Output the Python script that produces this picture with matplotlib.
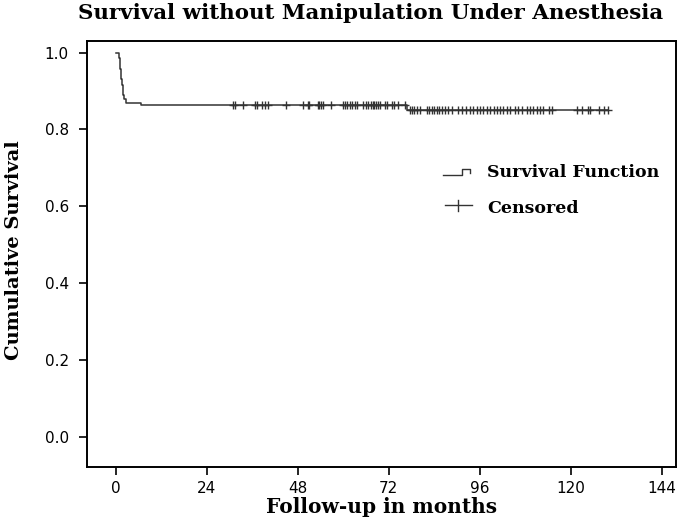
import numpy as np
import matplotlib
matplotlib.use("Agg")
import matplotlib.pyplot as plt

# Kaplan-Meier steps (months, cumulative survival)
event_months = [0.0, 0.9, 1.05, 1.2, 1.35, 1.5, 1.65, 1.8, 2.2, 2.6, 6.6, 76.7]
survival = [1.0, 0.985, 0.972, 0.958, 0.944, 0.930, 0.916, 0.889, 0.878, 0.869, 0.863, 0.850]
last_followup = 129.8

# censored observations (months)
censored_months = [
    30.9, 31.4, 33.5, 36.7, 37.2, 38.5, 39.3, 40.1, 44.9, 49.3, 50.6, 51.0,
    53.2, 53.6, 54.1, 54.7, 56.7, 59.8, 60.4, 61.0, 61.7, 62.3, 63.1, 63.5,
    65.3, 65.9, 66.6, 67.3, 67.7, 68.2, 68.6, 69.2, 69.7, 71.0, 71.6, 72.7,
    73.4, 74.3, 76.3, 77.6, 78.0, 78.7, 79.3, 80.2, 82.0, 82.6, 83.3, 83.9,
    84.6, 85.3, 85.9, 86.8, 87.7, 88.6, 90.3, 91.2, 92.3, 93.4, 94.3, 95.2,
    95.9, 96.9, 97.8, 98.7, 99.6, 100.5, 101.3, 102.2, 103.1, 104.0, 105.3,
    106.1, 107.0, 108.4, 109.2, 110.1, 111.0, 111.9, 112.7, 114.1, 115.0,
    121.6, 122.9, 124.6, 125.1, 127.3, 128.6, 129.8,
]

x_ticks = [0, 24, 48, 72, 96, 120, 144]
y_ticks = [0.0, 0.2, 0.4, 0.6, 0.8, 1.0]

INK = "#333333"
SERIF = ["DejaVu Serif"]

fig = plt.figure(figsize=(6.79, 5.22), dpi=100)
ax = fig.add_axes([0.128, 0.1054, 0.8676, 0.8161])

t = np.array(event_months + [last_followup])
s = np.array(survival + [survival[-1]])
ax.step(t, s, where="post", color=INK, lw=1.1)

cm = np.array(censored_months)
idx = np.searchsorted(np.array(event_months), cm, side="right") - 1
ax.plot(cm, np.array(survival)[idx], linestyle="none", marker="+",
        markersize=5.5, markeredgewidth=1.0, color=INK)

ax.set_xlim(-7.6, 147.7)
ax.set_ylim(-0.079, 1.030)
ax.set_xticks(x_ticks)
ax.set_yticks(y_ticks)
ax.set_yticklabels([f"{v:.1f}" for v in y_ticks])
ax.tick_params(direction="out", length=6, width=1.2, labelsize=11, colors="black")
ax.tick_params(axis="x", pad=4)
ax.tick_params(axis="y", pad=7)
for sp in ax.spines.values():
    sp.set_linewidth(1.4)
    sp.set_color("black")

ax.set_xlabel("Follow-up in months", family=SERIF, fontweight="bold", fontsize=14.5, labelpad=1)
ax.set_ylabel("Cumulative Survival", family=SERIF, fontweight="bold", fontsize=14)
ax.yaxis.set_label_coords(-0.108, 0.51)
fig.text(0.546, 0.975, "Survival without Manipulation Under Anesthesia", family=SERIF,
         fontweight="bold", fontsize=15.4, ha="center", va="center")

# legend drawn by hand in pixel-derived axes fractions
def ax_xy(px, py):
    return (px - 87) / 589.0, (467 - py) / 426.0

step_icon = [ax_xy(443, 175), ax_xy(461.7, 175), ax_xy(461.7, 169.5), ax_xy(470, 169.5), ax_xy(470, 173)]
ax.plot([p[0] for p in step_icon], [p[1] for p in step_icon], color=INK, lw=1.0,
        transform=ax.transAxes, clip_on=False)
p0, p1 = ax_xy(445, 205.5), ax_xy(472, 205.5)
ax.plot([p0[0], p1[0]], [p0[1], p1[1]], color=INK, lw=1.0, transform=ax.transAxes)
v0, v1 = ax_xy(458.5, 200), ax_xy(458.5, 211)
ax.plot([v0[0], v1[0]], [v0[1], v1[1]], color=INK, lw=1.0, transform=ax.transAxes)

tx, ty = ax_xy(487, 173)
ax.text(tx, ty, "Survival Function", transform=ax.transAxes, family=SERIF,
        fontweight="bold", fontsize=12.5, ha="left", va="center")
tx, ty = ax_xy(487, 209)
ax.text(tx, ty, "Censored", transform=ax.transAxes, family=SERIF,
        fontweight="bold", fontsize=12.5, ha="left", va="center")

fig.savefig("out.png", dpi=100)
